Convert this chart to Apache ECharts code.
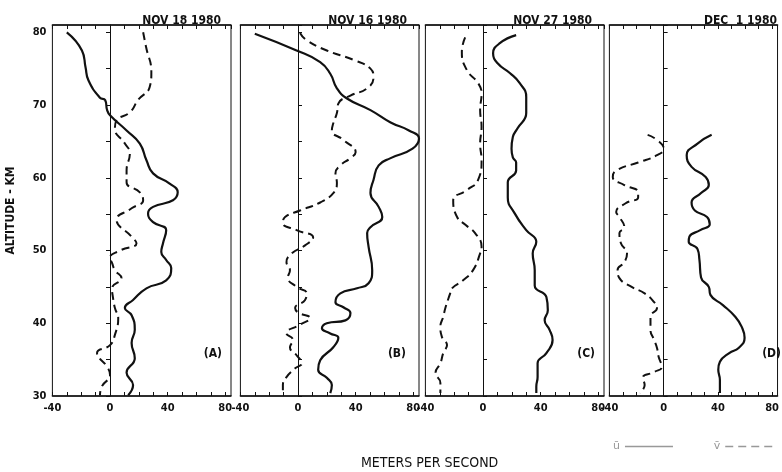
<!DOCTYPE html>
<html>
<head>
<meta charset="utf-8">
<script src="https://cdn.jsdelivr.net/npm/echarts@6/dist/echarts.min.js"></script>
<style>
  html, body { margin: 0; padding: 0; background: #fff; }
  #main { width: 782px; height: 472px; }
</style>
</head>
<body>
<div id="main"></div>
<script>
// panel titles / letters
var dates = ['NOV 18 1980', 'NOV 16 1980', 'NOV 27 1980', 'DEC  1 1980'];
var letters = ['(A)', '(B)', '(C)', '(D)'];
var xTicks = [-40, 0, 40, 80];
var yTicks = [30, 40, 50, 60, 70, 80];

// panel A
var altAu = [80,77.5,75.2,73.4,71,70.7,69.3,68.6,66.5,64.7,62.4,60.6,59.2,58,56.9,56,55.1,53.9,52.8,51,49.8,48.7,47.6,45.9,44.8,43.2,42.1,41.1,39.1,37.3,35.2,33.2,31.5,30.1];
var uA = [-30,-19.5,-17,-15,-7,-3.4,-2,0,11.5,20.7,25.3,29.9,41.4,47,43.7,29.9,26.4,29.9,39,36.8,35.6,39,42.5,39,25.3,16,10.3,15,17.2,15,17.2,11.5,16,12.6];
var altAv = [80,78,74.5,72.5,70.7,69,67.9,66.8,64.7,63.4,61,59.4,58,56.9,55.8,54.2,51.9,51,50,49,48.3,47.3,46.2,44.8,43.6,42.1,40.7,38.4,37,35.9,34,32.9,31.3,30.1];
var vA = [23,25,28.7,27.6,19.5,13.8,4.6,3.4,10.3,13.8,11.5,11.5,20.7,23,15,4.6,15,18.4,7,0,1.4,3.4,8,1.4,2,3.4,5.7,3.4,0,-9,-2,0,-5.7,-7];

// panel B
var altBu = [79.8,77.5,75.9,74.3,72.3,70.9,69.3,67.6,66.5,65.4,64,62.7,61.7,59.7,57.9,56,54.6,53.2,52.4,50.5,47.3,45.5,44.8,44.1,42.9,42.2,41.4,40.4,40,39.3,38.6,38,36.7,34.9,33.6,32.5,31.5,30.4];
var uB = [-30,-1,15.4,22.4,27,34,50.3,64.3,77,84,79.5,64.3,56,52.4,50.3,56,58.5,50.3,48,49,51.5,49,41,29.4,26,31.5,36.4,32.9,20,16.6,22.4,28,24.5,15.4,14,20,23.5,22.4];
var altBv = [79.9,78.9,77.5,76.2,75,73.8,72.3,71.3,70.2,68.9,67.5,66.5,65.2,63.5,62.7,61.7,60.6,59.3,57.9,56.6,55.5,54.6,53.8,52.8,51.8,50.7,49.6,48.4,47.3,46.3,45,44.1,43.2,42.1,41.5,40.7,39.8,38.6,37.7,36.7,35.6,34.5,33.8,32.6,31.5,30.4];
var vB = [1.4,6,20,38.6,50.3,52.4,48,36.4,28,27,24.5,23.5,31.5,40,36.4,29.4,26,27,24.5,15.4,1.4,-9,-10.5,-1,10.5,4.9,-4.4,-8,-5.6,-7,-1,6,4.9,-2,0,8.4,1.4,-8,-3.5,-5.6,-1,2.6,-2,-8,-10.5,-10.5];

// panel C
var altCu = [79.6,78.5,77.1,75.7,74.4,73,71.1,68.9,66.8,65.6,64,62.8,62.1,61,59.4,57.3,55.1,52.8,51.2,49.6,47.3,45.2,43.6,41.8,40.4,39.1,37.7,35.9,34.5,32.6,31.3,30.4];
var uC = [23,11.7,7,10.3,18.6,25.5,30,30,24,20.7,19.8,20.7,23,23,17.2,17.2,22,30,37,34.5,35.9,35.9,44,45,42.8,46.2,48.3,44,37.9,37.9,37,37];
var altCv = [79.3,77.3,74.8,73,71.6,69.3,67,64.7,62.4,59.7,58.3,56.9,54.6,53.5,52.4,50.5,49.6,47.3,45.9,44.8,44.1,42.2,40.9,39.5,38.1,37,35.9,34.5,33.2,31.8,30.4];
var vC = [-12.4,-14.7,-11.2,-3.4,-1,-2,-1,-2,-1,-3.4,-11.2,-20.7,-18,-12,-5.5,-1,-2,-6.9,-13.8,-21.6,-22.8,-26,-27.6,-29.6,-28.5,-25,-27.6,-29.6,-33,-29.6,-29.6];

// panel D
var altDu = [65.9,64.7,63.1,61.5,60.1,59,57.9,56.6,55.5,54.6,53.6,52.8,51.9,51.2,50.2,48.7,46.3,45,43.9,42.5,40.9,39.5,38,36.6,35.9,34.7,33.6,32.2,30.4];
var uD = [35.4,25,17,20.6,31,33.3,27.6,20.6,23,32,34,27,19,18.5,25,26.4,27.6,33.3,34.5,43.7,52.8,57.6,59.7,55.3,48.4,41.5,40.3,41.5,41.5];
var altDv = [65.9,65.2,64,63.1,62.1,61,60.1,59,58,57.3,56.5,55.3,54.6,53.2,52.4,51,49.6,48.4,47.3,46.2,45,44.1,42.9,42.1,40.9,39.1,37.7,36.6,35.4,34,33.3,32.5,31.5,30.4];
var vD = [-11.8,-4.9,0,-4.9,-18.8,-35,-37.5,-29,-18.8,-18.8,-28,-35,-32.6,-29,-32.6,-31.5,-27,-29,-34,-32.6,-23.6,-14,-7,-4.9,-9.7,-9.7,-7,-4.9,-3.7,-1.4,-7,-15.3,-14,-17.6];

var panels = [
    {alu: altAu, u: uA, alv: altAv, v: vA},
    {alu: altBu, u: uB, alv: altBv, v: vB},
    {alu: altCu, u: uC, alv: altCv, v: vC},
    {alu: altDu, u: uD, alv: altDv, v: vD}
];

var U_NAME = 'u\u0304';
var V_NAME = 'v\u0304';
var boldFont = '"DejaVu Sans Condensed", "DejaVu Sans", sans-serif';

function pairs(xs, alts) {
    return alts.map(function (a, i) { return [xs[i], a]; });
}

var chartDom = document.getElementById('main');
var myChart = echarts.init(chartDom, null, {renderer: 'canvas'});

var lefts = [52.4, 240.4, 425.4, 609.4];
var grids = [], xAxes = [], yAxes = [], series = [], titles = [];

for (let i = 0; i < 4; i++) {
    grids.push({
        left: lefts[i], top: 25, width: 178.6, height: 371,
        show: true, borderColor: '#111', borderWidth: 1, backgroundColor: 'transparent'
    });
    xAxes.push({
        gridIndex: i, type: 'value', min: -40, max: 84, interval: 10,
        axisLine: {show: true, lineStyle: {color: '#111', width: 1.5}},
        axisTick: {show: true, inside: true, length: 4, lineStyle: {color: '#111'}},
        splitLine: {show: false},
        axisLabel: {
            margin: 7, color: '#111', fontFamily: boldFont, fontWeight: 'bold', fontSize: 11,
            showMaxLabel: false,
            formatter: function (v) { return xTicks.indexOf(v) >= 0 ? String(v) : ''; }
        }
    });
    xAxes.push({
        gridIndex: i, type: 'value', position: 'top', min: -40, max: 84, interval: 10,
        axisLine: {show: true, lineStyle: {color: '#111', width: 1.5}},
        axisTick: {show: true, inside: true, length: 4, lineStyle: {color: '#111'}},
        splitLine: {show: false},
        axisLabel: {show: false}
    });
    yAxes.push({
        gridIndex: i, type: 'value', min: 30, max: 81, interval: 5,
        axisLine: {show: true, lineStyle: {color: '#111'}},
        axisTick: {show: true, inside: i > 0, length: 4, lineStyle: {color: '#111'}},
        splitLine: {show: false},
        axisLabel: {
            show: i === 0, margin: 6, color: '#111', fontFamily: boldFont, fontWeight: 'bold', fontSize: 11,
            showMaxLabel: false,
            formatter: function (v) { return yTicks.indexOf(v) >= 0 ? String(v) : ''; }
        },
        name: i === 0 ? 'ALTITUDE - KM' : '',
        nameLocation: 'middle', nameGap: 36, nameRotate: 90,
        nameTextStyle: {color: '#111', fontFamily: boldFont, fontWeight: 'bold', fontSize: 12}
    });

    var p = panels[i];
    series.push({
        name: U_NAME, type: 'line', xAxisIndex: 2 * i, yAxisIndex: i,
        data: pairs(p.u, p.alu), smooth: 0.5, symbol: 'none', clip: false,
        lineStyle: {color: '#111', width: 2.2},
        markLine: {
            silent: true, symbol: ['none', 'none'], label: {show: false},
            lineStyle: {color: '#111', width: 1, type: 'solid'},
            data: [{xAxis: 0}]
        }
    });
    series.push({
        name: V_NAME, type: 'line', xAxisIndex: 2 * i, yAxisIndex: i,
        data: pairs(p.v, p.alv), smooth: 0.5, symbol: 'none', clip: false,
        lineStyle: {color: '#111', width: 2, type: [8, 5]}
    });
}

var titleRights = [556, 370, 185, 0];
var letterRights = [555, 371, 182, -4];
for (let i = 0; i < 4; i++) {
    titles.push({
        text: dates[i], right: titleRights[i], top: 10,
        textStyle: {color: '#111', fontFamily: boldFont, fontWeight: 'bold', fontSize: 12}
    });
    titles.push({
        text: letters[i], right: letterRights[i], top: 343,
        textStyle: {color: '#111', fontFamily: boldFont, fontWeight: 'bold', fontSize: 12}
    });
}
titles.push({
    text: 'METERS PER SECOND', left: 356, top: 451,
    textStyle: {color: '#111', fontFamily: '"DejaVu Sans Condensed", sans-serif', fontWeight: 'normal', fontSize: 14}
});

var option = {
    backgroundColor: '#fff',
    color: ['#111'],
    animation: false,
    title: titles,
    legend: {
        data: [U_NAME, V_NAME],
        left: 608, top: 436, width: 174, align: 'right',
        itemWidth: 48, itemHeight: 10, itemGap: 40,
        textStyle: {color: '#999', fontSize: 11, fontFamily: 'DejaVu Sans'},
        itemStyle: {opacity: 0},
        lineStyle: {color: '#999', width: 1.5}
    },
    grid: grids,
    xAxis: xAxes,
    yAxis: yAxes,
    series: series
};

option && myChart.setOption(option);
</script>
</body>
</html>
